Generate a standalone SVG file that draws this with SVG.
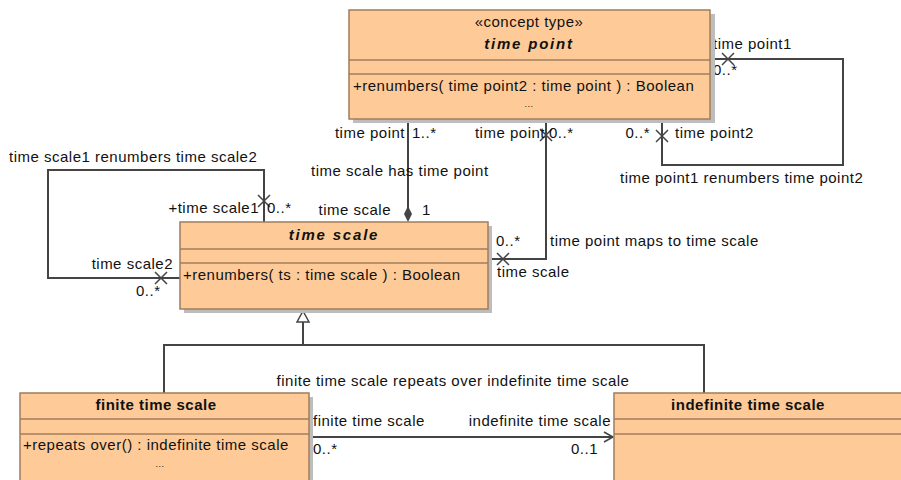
<svg xmlns="http://www.w3.org/2000/svg" width="901" height="480" viewBox="0 0 901 480">
<style>
text{font-family:"Liberation Sans",Arial,sans-serif;font-size:15px;letter-spacing:0.5px;fill:#111}
.b{font-weight:bold}
.bi{font-weight:bold;font-style:italic;letter-spacing:1.8px}
.m{text-anchor:middle}
.e{text-anchor:end}
.box{fill:#FECB98;stroke:#A07C5C;stroke-width:1.5}
.sh{fill:#BDBDBD}
.dv{stroke:#A07C5C;stroke-width:1.5}
.ln{fill:none;stroke:#444;stroke-width:2}
.x{stroke:#444;stroke-width:1.5}
</style>
<defs>
<marker id="open" markerWidth="12" markerHeight="12" refX="10" refY="6" orient="auto" markerUnits="userSpaceOnUse">
<path d="M1,1 L10,6 L1,11" fill="none" stroke="#444" stroke-width="1.5"/>
</marker>
</defs>
<g id="connectors">
<line class="ln" x1="408" y1="119" x2="408" y2="208"/>
<path d="M408,206 L412,214 L408,222 L404,214 Z" fill="#444"/>
<polyline class="ln" points="488,259 546,259 546,119"/>
<path class="x" d="M497,253 L509,265 M497,265 L509,253"/>
<path class="x" d="M540,129 L552,141 M540,141 L552,129"/>
<polyline class="ln" points="710,59 843,59 843,165 662,165 662,119"/>
<path class="x" d="M722,53 L734,65 M722,65 L734,53"/>
<path class="x" d="M656,130 L668,142 M656,142 L668,130"/>
<polyline class="ln" points="264,222 264,170 48,170 48,278 180,278"/>
<path class="x" d="M258,195 L270,207 M258,207 L270,195"/>
<path class="x" d="M155,272 L167,284 M155,284 L167,272"/>
<polyline class="ln" points="164,393 164,345 704,345 704,393"/>
<line class="ln" x1="303" y1="345" x2="303" y2="322"/>
<path d="M303,311 L309,322 L297,322 Z" fill="#fff" stroke="#444" stroke-width="1.5"/>
<line class="ln" x1="310" y1="437" x2="613" y2="437" marker-end="url(#open)"/>
</g>
<g id="labels">
<text x="405" y="138" class="e">time point</text>
<text x="412" y="138">1..*</text>
<text x="311" y="176">time scale has time point</text>
<text x="391" y="215" class="e">time scale</text>
<text x="422" y="215">1</text>
<text x="496" y="246">0..*</text>
<text x="497" y="277">time scale</text>
<text x="545" y="138" class="e">time point</text>
<text x="549" y="138">0..*</text>
<text x="550" y="246">time point maps to time scale</text>
<text x="713" y="49">time point1</text>
<text x="713" y="75">0..*</text>
<text x="650" y="138" class="e">0..*</text>
<text x="675" y="138">time point2</text>
<text x="620" y="183">time point1 renumbers time point2</text>
<text x="9" y="162">time scale1 renumbers time scale2</text>
<text x="259" y="213" class="e">+time scale1</text>
<text x="267" y="213">0..*</text>
<text x="173" y="269" class="e">time scale2</text>
<text x="136" y="296">0..*</text>
<text x="453" y="386" class="m">finite time scale repeats over indefinite time scale</text>
<text x="313" y="426">finite time scale</text>
<text x="313" y="454">0..*</text>
<text x="611" y="426" class="e">indefinite time scale</text>
<text x="598" y="454" class="e">0..1</text>
</g>
<g id="time-point">
<rect class="sh" x="353" y="14" width="362" height="109"/>
<rect class="box" x="349" y="10" width="361" height="109"/>
<line class="dv" x1="349" y1="60" x2="710" y2="60"/>
<line class="dv" x1="349" y1="74" x2="710" y2="74"/>
<text x="529" y="27" class="m">«concept type»</text>
<text x="529" y="49" class="m bi">time point</text>
<text x="353" y="91">+renumbers( time point2 : time point ) : Boolean</text>
<text x="529" y="107" class="m" style="font-size:9px">...</text>
</g>
<g id="time-scale">
<rect class="sh" x="184" y="226" width="308" height="87"/>
<rect class="box" x="180" y="222" width="308" height="87"/>
<line class="dv" x1="180" y1="249" x2="488" y2="249"/>
<line class="dv" x1="180" y1="263" x2="488" y2="263"/>
<text x="334" y="240" class="m bi">time scale</text>
<text x="183" y="280">+renumbers( ts : time scale ) : Boolean</text>
</g>
<g id="finite-time-scale">
<rect class="sh" x="24" y="397" width="289" height="90"/>
<rect class="box" x="20" y="393" width="289" height="90"/>
<line class="dv" x1="20" y1="419" x2="309" y2="419"/>
<line class="dv" x1="20" y1="434" x2="309" y2="434"/>
<text x="156" y="410" class="m b">finite time scale</text>
<text x="23" y="450">+repeats over() : indefinite time scale</text>
<text x="160" y="467" class="m" style="font-size:9px">...</text>
</g>
<g id="indefinite-time-scale">
<rect class="box" x="614" y="393" width="300" height="90"/>
<line class="dv" x1="614" y1="419" x2="901" y2="419"/>
<line class="dv" x1="614" y1="434" x2="901" y2="434"/>
<text x="748" y="410" class="m b">indefinite time scale</text>
</g>
</svg>
